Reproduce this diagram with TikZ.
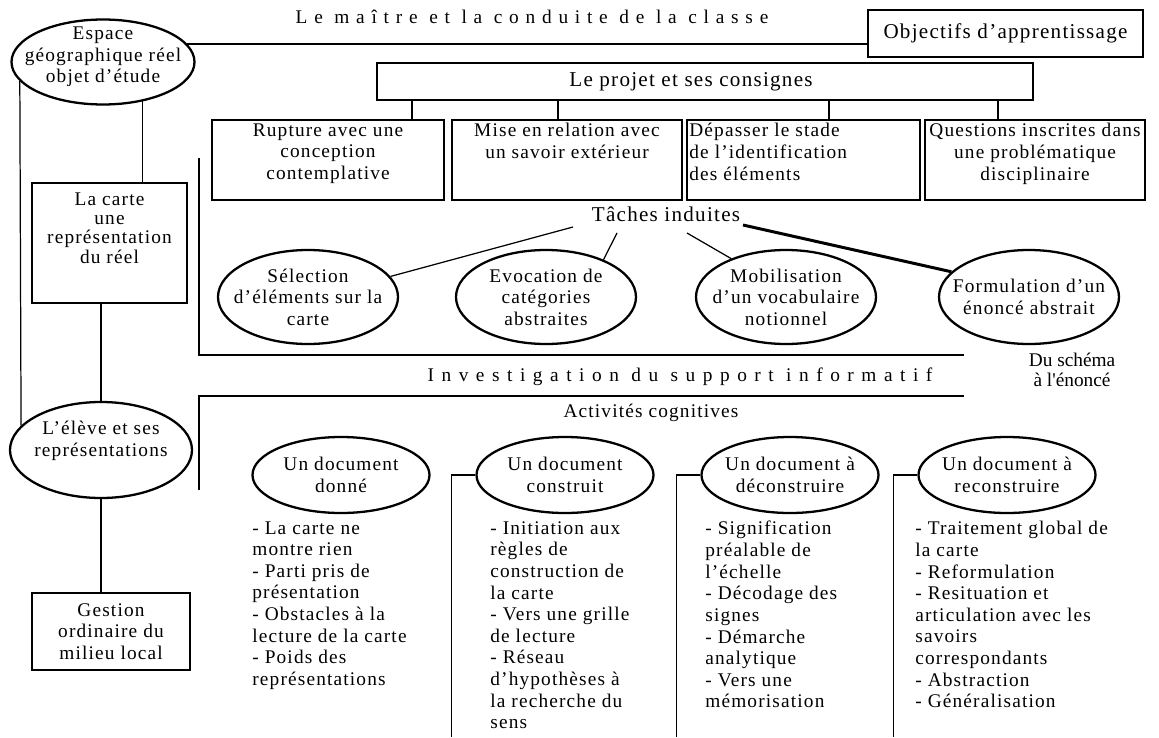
\documentclass[tikz,border=0pt]{standalone}
\usepackage{fontspec}
\setmainfont{Liberation Serif}[LetterSpace=6]
\newfontfamily\titlefont{Liberation Serif}[LetterSpace=35]
\newfontfamily\bandfont{Liberation Serif}[LetterSpace=39]
\newfontfamily\notefont{Liberation Serif}
\usetikzlibrary{shapes.geometric, calc}

\begin{document}
\begin{tikzpicture}[
    x=0.2mm, y=-0.2mm,
    every node/.style={inner sep=0pt, font=\fontsize{11}{12.3}\selectfont},
    big/.style={font=\fontsize{12}{14}\selectfont},
    band/.style={font=\bandfont\fontsize{11}{13}\selectfont},
    box/.style={rectangle, draw, line width=1.1pt},
    oval/.style={ellipse, draw, line width=1.3pt},
    wire/.style={line width=0.7pt},
    frame/.style={line width=0.7pt},
]
\useasboundingbox (0,0) rectangle (1159,737);

% ================================================ headings
\node[font=\titlefont\fontsize{11}{13}\selectfont] (maitre) at (532,17) {Le maître et la conduite de la classe};
\node[band] (invest) at (680,377) {Investigation du support informatif};
\node (activ) at (651,413) {Activités cognitives};
\node[align=center, font=\notefont\fontsize{11}{11.6}\selectfont] (schema) at (1072,370) {Du schéma\\à l'énoncé};

% ================================================ left column
\node[oval, minimum width=36.6mm, minimum height=17mm,
      label={[align=center, yshift=1mm]center:Espace\\géographique réel\\objet d'étude}] (espace) at (103,62) {};
\node[box, minimum width=31mm, minimum height=24mm] (carte) at (109.5,243) {};
\node[anchor=north, align=center, font=\fontsize{11}{11}\selectfont] (tcarte)
      at ([yshift=-2mm]carte.north) {La carte\\une\\représentation\\du réel};
\node[oval, minimum width=36.4mm, minimum height=19.2mm,
      label={[align=center, yshift=1.8mm]center:L'élève et ses\\représentations}] (eleve) at (101,450) {};
\node[box, minimum width=31.6mm, minimum height=15.4mm, align=center] (gestion) at (111,631.5)
      {Gestion\\ordinaire du\\milieu local};

% ================================================ objectives and project
\node[box, big, minimum width=55mm, minimum height=9.4mm] (objectifs) at (1005.5,33.5) {Objectifs d'apprentissage};
\node[box, minimum width=131.2mm, minimum height=7.4mm,
      label={[big, xshift=-2.8mm]center:Le projet et ses consignes}] (projet) at (705,81.5) {};

\foreach \n/\x/\w/\t in {b1/328/46.4/{Rupture avec une\\conception\\contemplative},
                        b2/567/46/{Mise en relation avec\\un savoir extérieur},
                        b4/1035/44/{Questions inscrites dans\\une problématique\\disciplinaire}}{
    \node[box, minimum width=\w mm, minimum height=16mm] (\n) at (\x,160) {};
    \node[anchor=north, align=center] (t\n) at ([yshift=-0.8mm]\n.north) {\t};
}
\node[box, minimum width=46.6mm, minimum height=16mm] (b3) at (803.5,160) {};
\node[anchor=north west, align=left] (tb3) at ([xshift=0.6mm, yshift=-0.8mm]b3.north west)
      {Dépasser le stade\\de l'identification\\des éléments};

\foreach \n/\x in {b1/412, b2/558, b3/829, b4/998}
    \draw[wire] (\x,0 |- \n.north) -- (\x,0 |- projet.south);

% the links of the left column
\draw[wire] (espace.12) -- (espace.12 -| objectifs.west);
\draw[wire] (espace.193) -- (eleve.163);
\draw[wire] (espace.-45) -- (espace.-45 |- carte.north);
\draw[wire] (eleve.north) -- (eleve.north |- carte.south);
\draw[wire] (eleve.south) -- (eleve.south |- gestion.north);

% ================================================ induced tasks
\node[big, anchor=base] (taches) at (666,221) {Tâches induites};
\foreach \n/\x/\t in {selection/308/{Sélection\\d'éléments sur la\\carte},
                     evocation/546/{Evocation de\\catégories\\abstraites},
                     mobilisation/786/{Mobilisation\\d'un vocabulaire\\notionnel},
                     formulation/1029/{Formulation d'un\\énoncé abstrait}}
    \node[oval, minimum width=36mm, minimum height=18.8mm,
          label={[align=center]center:\t}] (\n) at (\x,297) {};

\draw[wire] ($(taches.base)+(-93,6)$) -- (selection.14);
\draw[wire] ($(taches.base)+(-49,12)$) -- (evocation.33);
\draw[wire] ($(taches.base)+(21,12)$) -- (mobilisation.145);
\draw[line width=1.7pt] ($(taches.base)+(77,4)$) -- (formulation.162);

\draw[frame] (199,158) -- (199,355) -- (964,355);
\draw[frame] (199,490) -- (199,396) -- (964,396);

% ================================================ cognitive activities
\foreach \n/\x/\t in {donne/341/{Un document\\donné},
                     construit/565/{Un document\\construit},
                     deconstruire/790/{Un document à\\déconstruire},
                     reconstruire/1007/{Un document à\\reconstruire}}
    \node[oval, minimum width=35.4mm, minimum height=15.2mm,
          label={[align=center]center:\t}] (\n) at (\x,475) {};

\foreach \n in {construit, deconstruire, reconstruire}
    \draw[frame] (\n.west) -- ++(-24,0) -- ++(0,262);

\node[anchor=north west, align=left] (l1) at (252,521)
    {- La carte ne\\montre rien\\- Parti pris de\\présentation\\- Obstacles à la\\lecture de la carte\\- Poids des\\représentations};
\node[anchor=north west, align=left] (l2) at (490,521)
    {- Initiation aux\\règles de\\construction de\\la carte\\- Vers une grille\\de lecture\\- Réseau\\d'hypothèses à\\la recherche du\\sens};
\node[anchor=north west, align=left] (l3) at (705,521)
    {- Signification\\préalable de\\l'échelle\\- Décodage des\\signes\\- Démarche\\analytique\\- Vers une\\mémorisation};
\node[anchor=north west, align=left] (l4) at (915,521)
    {- Traitement global de\\la carte\\- Reformulation\\- Resituation et\\articulation avec les\\savoirs\\correspondants\\- Abstraction\\- Généralisation};

\end{tikzpicture}
\end{document}
